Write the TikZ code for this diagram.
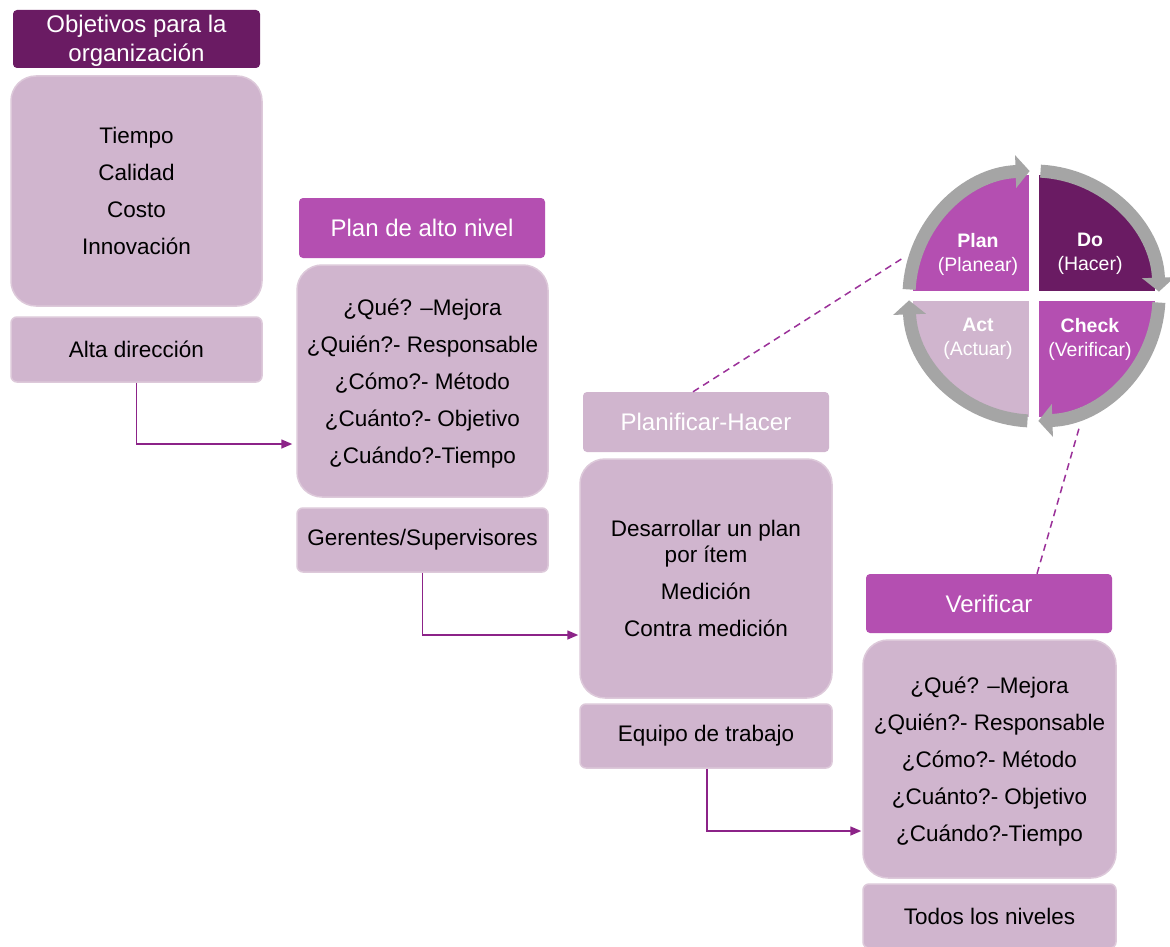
\documentclass[tikz,border=0pt]{standalone}
\usepackage{fontspec}
\setmainfont{Liberation Sans}
\usetikzlibrary{arrows.meta,calc}

\definecolor{darkplum}{HTML}{6A1B63}
\definecolor{orchid}{HTML}{B44FB1}
\definecolor{lilac}{HTML}{D0B5CE}
\definecolor{lilacedge}{HTML}{DDC9DA}
\definecolor{ringgray}{HTML}{A5A5A5}
\definecolor{linkpurple}{HTML}{8C2388}
\definecolor{dashpurple}{HTML}{9B3199}

\tikzset{
  txt/.style={align=center, inner sep=0pt, font=\fontsize{22.5}{37}\selectfont},
  hdr/.style={txt, rounded corners=4pt, text=white, minimum width=246pt, minimum height=60pt,
    font=\fontsize{24}{29}\selectfont},
  hdrdark/.style={hdr, fill=darkplum},
  hdrmag/.style={hdr, fill=orchid},
  hdrlil/.style={hdr, fill=lilac},
  mainbox/.style={txt, rounded corners=25pt, fill=lilac, draw=lilacedge, line width=1.5pt, minimum width=251pt},
  footbox/.style={txt, rounded corners=6pt, fill=lilac, draw=lilacedge, line width=1.5pt, minimum width=251pt, minimum height=64pt},
  link/.style={draw=linkpurple, line width=1.5pt, -{Triangle[length=11pt,width=9pt]}},
  dashlink/.style={draw=dashpurple, line width=1.5pt, dash pattern=on 7pt off 5pt},
  ring/.style={draw=ringgray, line width=13pt, -{Triangle[length=14pt,width=32pt]}},
  pdcalabel/.style={align=center, inner sep=0pt, text=white, font=\fontsize{19.5}{24}\selectfont},
}

\begin{document}
\begin{tikzpicture}[x=1pt, y=-1pt]
  \useasboundingbox (0,0) rectangle (1170,947);
  \fill[white] (0,0) rectangle (1170,947);

  % Column 1: organisation goals
  \node[hdrdark, minimum width=247pt, minimum height=58pt]
    (h1) at (136.5,39) {\rule{0pt}{20pt}Objetivos para la\\organización};
  \node[mainbox, minimum height=230pt] (m1) at (136.5,191) {Tiempo\\Calidad\\Costo\\Innovación};
  \node[footbox, minimum height=65pt] (f1) at (136.5,349.5) {Alta dirección};

  % Column 2: high-level plan
  \node[hdrmag] (h2) at (422,228) {Plan de alto nivel};
  \node[mainbox, minimum height=232pt] (m2) at (422.5,381)
    {\rule{0pt}{22pt}¿Qué? –Mejora\\¿Quién?- Responsable\\¿Cómo?- Método\\¿Cuánto?- Objetivo\\¿Cuándo?-Tiempo};
  \node[footbox] (f2) at (422.5,540) {Gerentes/Supervisores};

  % Column 3: plan-do
  \node[hdrlil] (h3) at (706,422) {Planificar-Hacer};
  \node[mainbox, minimum width=252pt, minimum height=239pt, font=\fontsize{22.5}{26}\selectfont] (m3) at (706,578.5)
    {Desarrollar un plan\\por ítem\\[11pt]Medición\\[11pt]Contra medición};
  \node[footbox, minimum width=252pt] (f3) at (706,736) {Equipo de trabajo};

  % Column 4: check
  \node[hdrmag, minimum height=59pt] (h4) at (989,603.5) {Verificar};
  \node[mainbox, minimum width=253pt, minimum height=238pt] (m4) at (989.5,759)
    {\rule{0pt}{22pt}¿Qué? –Mejora\\¿Quién?- Responsable\\¿Cómo?- Método\\¿Cuánto?- Objetivo\\¿Cuándo?-Tiempo};
  \node[footbox, minimum width=253pt] (f4) at (989.5,916) {Todos los niveles};

  % Elbow links between levels
  \draw[link, shorten >=4pt] (f1.south) |- ([yshift=-63pt]m2.west);
  \draw[link, shorten >=1pt] (f2.south) |- ([yshift=-56.5pt]m3.west);
  \draw[link, shorten >=1pt] ([xshift=1pt]f3.south) |- ([yshift=-72pt]m4.west);

  % PDCA wheel
  \coordinate (pdca) at (1034,296);
  \fill[orchid]   (pdca) -- ++(180:121) arc[start angle=180, end angle=270, radius=121] -- cycle;
  \fill[darkplum] (pdca) -- ++(270:121) arc[start angle=270, end angle=360, radius=121] -- cycle;
  \fill[orchid]   (pdca) -- ++(0:121)   arc[start angle=0,   end angle=90,  radius=121] -- cycle;
  \fill[lilac]    (pdca) -- ++(90:121)  arc[start angle=90,  end angle=180, radius=121] -- cycle;
  \fill[white] ($(pdca)+(-5,-123)$) rectangle ($(pdca)+(5,123)$);
  \fill[white] ($(pdca)+(-123,-5)$) rectangle ($(pdca)+(123,5)$);

  \draw[ring] (pdca) ++(183:125) arc[start angle=183, end angle=268, radius=125];
  \draw[ring] (pdca) ++(273:125) arc[start angle=273, end angle=358, radius=125];
  \draw[ring] (pdca) ++(3:125)   arc[start angle=3,   end angle=88,  radius=125];
  \draw[ring] (pdca) ++(93:125)  arc[start angle=93,  end angle=178, radius=125];

  \node[pdcalabel] (plan)  at (978,254)    {\textbf{Plan}\\(Planear)};
  \node[pdcalabel] (do)    at (1090,254)   {\textbf{Do}\\(Hacer)};
  \node[pdcalabel] (act)   at (978,339)    {\textbf{Act}\\(Actuar)};
  \node[pdcalabel] (check) at (1090,339)   {\textbf{Check}\\(Verificar)};

  % Dashed leaders from the stages to the wheel
  \coordinate (wheelW) at (903,258);
  \coordinate (wheelS) at (1080,425);
  \draw[dashlink] ([xshift=-13pt]h3.north) -- (wheelW);
  \draw[dashlink] ([xshift=48pt]h4.north) -- (wheelS);
\end{tikzpicture}
\end{document}
